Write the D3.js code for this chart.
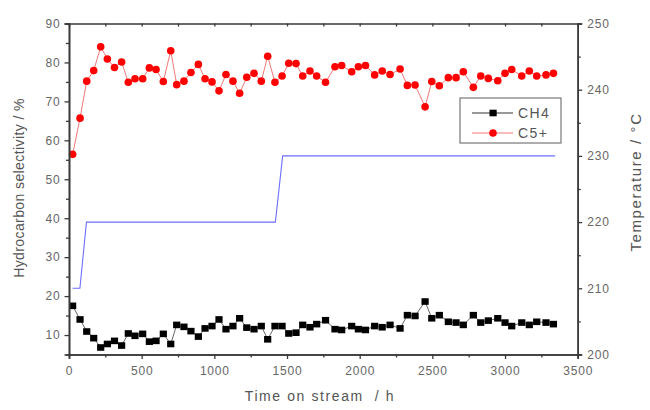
<!DOCTYPE html>
<html><head><meta charset="utf-8">
<script src="https://cdn.jsdelivr.net/npm/d3@7"></script>
<style>body{margin:0;background:#fff;} svg{display:block;font-family:Arial,"Liberation Sans",sans-serif;}</style>
</head><body>
<svg id="c" width="650" height="410"></svg>
<script>
const times = [25,76,122,170,218,264,313,362,408,454,507,553,599,649,700,741,791,839,890,936,984,1032,1080,1128,1174,1223,1273,1323,1367,1417,1466,1512,1562,1608,1658,1704,1765,1830,1876,1945,1991,2040,2103,2155,2209,2278,2328,2381,2450,2496,2548,2610,2663,2713,2782,2833,2885,2950,3000,3046,3115,3167,3218,3282,3333];
const c5 = [56.4,65.7,75.2,77.9,84.0,80.9,78.7,80.1,74.9,75.8,75.8,78.6,78.2,75.1,83.0,74.3,75.2,77.4,79.5,75.8,75.0,72.7,76.9,75.2,72.1,76.2,77.2,75.2,81.6,74.9,76.5,79.8,79.7,76.5,77.8,76.5,74.9,78.9,79.2,77.6,78.9,79.2,76.8,77.8,76.9,78.3,74.1,74.2,68.6,75.1,74.0,76.1,76.1,77.6,73.6,76.5,75.9,75.3,77.2,78.2,76.5,77.8,76.5,76.8,77.2];
const ch4 = [17.5,14.0,10.9,9.2,6.8,7.7,8.5,7.3,10.4,9.8,10.3,8.3,8.5,10.3,7.7,12.6,12.1,11.0,9.6,11.7,12.3,14.0,11.5,12.3,14.3,11.9,11.5,12.3,8.9,12.3,12.3,10.4,10.6,12.6,12.0,12.8,13.8,11.5,11.3,12.3,11.5,11.3,12.3,12.0,12.6,11.7,15.1,14.9,18.6,14.3,15.1,13.4,13.2,12.6,15.1,13.2,13.7,14.3,13.2,12.3,13.2,12.6,13.4,13.2,12.8];
const tempTimes = [25,75,120,1420,1470,3345];
const tempValues = [210,210,220,220,230,230];
const xTicks = [0,500,1000,1500,2000,2500,3000,3500];
const yLeftTicks = [10,20,30,40,50,60,70,80,90];
const yRightTicks = [200,210,220,230,240,250];
const seriesNames = ["CH4","C5+"];

const svg = d3.select("#c");
const L = 69, R = 577.7, T = 23.5, B = 354.5;
const x = d3.scaleLinear().domain([0,3500]).range([L,R]);
const yL = d3.scaleLinear().domain([5,90]).range([B,T]);
const yR = d3.scaleLinear().domain([200,250]).range([B,T]);
const axisCol = "#3a3a3a", txtCol = "#555";

// temperature line
svg.append("path")
  .datum(tempTimes.map((t,i)=>[t,tempValues[i]]))
  .attr("fill","none").attr("stroke","#6f6fff").attr("stroke-width",1.1)
  .attr("d", d3.line().x(d=>x(d[0])).y(d=>yR(d[1])));

// CH4
const ch4d = times.map((t,i)=>[t,ch4[i]]);
svg.append("path").datum(ch4d).attr("fill","none").attr("stroke","#666").attr("stroke-width",1)
  .attr("d", d3.line().x(d=>x(d[0])).y(d=>yL(d[1])));
svg.append("g").selectAll("rect").data(ch4d).join("rect")
  .attr("x",d=>x(d[0])-3.6).attr("y",d=>yL(d[1])-3.3).attr("width",7.2).attr("height",6.6).attr("fill","#000");

// C5+
const c5d = times.map((t,i)=>[t,c5[i]]);
svg.append("path").datum(c5d).attr("fill","none").attr("stroke","#f07878").attr("stroke-width",1)
  .attr("d", d3.line().x(d=>x(d[0])).y(d=>yL(d[1])));
svg.append("g").selectAll("circle").data(c5d).join("circle")
  .attr("cx",d=>x(d[0])).attr("cy",d=>yL(d[1])).attr("r",3.8).attr("fill","#ff0000");

// axes
function styleAxis(g){
  g.select(".domain").attr("stroke",axisCol).attr("stroke-width",1.6);
  g.selectAll(".tick line").attr("stroke",axisCol).attr("stroke-width",1.3);
  g.selectAll(".tick text").attr("fill","#666").attr("font-size",12).attr("letter-spacing",0.8);
}
// bottom minor
svg.append("g").attr("transform",`translate(0,${B})`)
  .call(d3.axisBottom(x).tickValues(d3.range(250,3500,500)).tickSize(3).tickFormat(""))
  .call(styleAxis);
svg.append("g").attr("transform",`translate(0,${B})`)
  .call(d3.axisBottom(x).tickValues(xTicks).tickSize(4.5).tickPadding(7).tickFormat(d3.format("d")))
  .call(styleAxis);
// top
svg.append("g").attr("transform",`translate(0,${T})`)
  .call(d3.axisBottom(x).tickValues(d3.range(250,3500,250)).tickSize(3).tickFormat(""))
  .call(styleAxis);
// left
svg.append("g").attr("transform",`translate(${L},0)`)
  .call(d3.axisLeft(yL).tickValues(d3.range(15,90,10)).tickSize(3).tickFormat(""))
  .call(styleAxis);
svg.append("g").attr("transform",`translate(${L},0)`)
  .call(d3.axisLeft(yL).tickValues(yLeftTicks).tickSize(4.5).tickPadding(4))
  .call(styleAxis);
// right
svg.append("g").attr("transform",`translate(${R},0)`)
  .call(d3.axisRight(yR).tickValues(d3.range(205,250,10)).tickSize(3).tickFormat(""))
  .call(styleAxis);
svg.append("g").attr("transform",`translate(${R},0)`)
  .call(d3.axisRight(yR).tickValues(yRightTicks).tickSize(4.5).tickPadding(5))
  .call(styleAxis);

// titles
svg.append("text").attr("x",320).attr("y",401).attr("text-anchor","middle")
  .attr("font-size",14).attr("fill",txtCol).attr("letter-spacing",1.6).attr("xml:space","preserve").text("Time on stream  / h");
svg.append("text").attr("transform","translate(24,188) rotate(-90)").attr("text-anchor","middle")
  .attr("font-size",14).attr("fill",txtCol).attr("letter-spacing",0.4).text("Hydrocarbon selectivity / %");
svg.append("text").attr("transform","translate(641,182) rotate(-90)").attr("text-anchor","middle")
  .attr("font-size",15).attr("fill",txtCol).attr("letter-spacing",1.6).text("Temperature / °C");

// legend
const lg = svg.append("g");
lg.append("rect").attr("x",460).attr("y",98).attr("width",101).attr("height",45)
  .attr("fill","#fff").attr("stroke","#777").attr("stroke-width",1.2);
const ly = [113,133];
seriesNames.forEach((n,i)=>{
  lg.append("line").attr("x1",472).attr("x2",513).attr("y1",ly[i]).attr("y2",ly[i])
    .attr("stroke", i===0 ? "#333" : "#f07878").attr("stroke-width",1);
  if(i===0) lg.append("rect").attr("x",489.5).attr("y",ly[i]-3.3).attr("width",7.2).attr("height",6.6).attr("fill","#000");
  else lg.append("circle").attr("cx",493).attr("cy",ly[i]).attr("r",3.8).attr("fill","#ff0000");
  lg.append("text").attr("x",518).attr("y",ly[i]+5).attr("font-size",14).attr("fill",txtCol).attr("letter-spacing",1.4).text(n);
});
</script>
</body></html>
